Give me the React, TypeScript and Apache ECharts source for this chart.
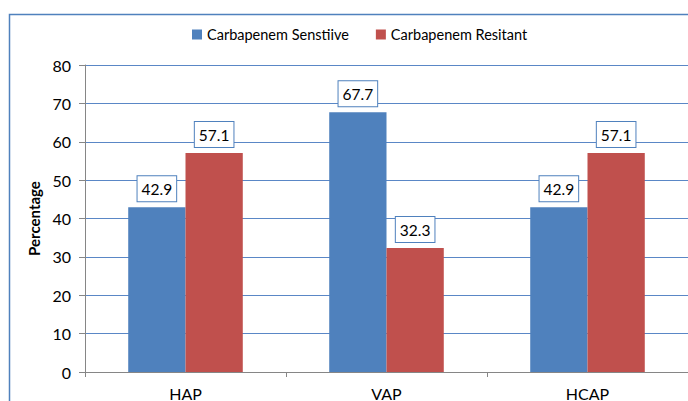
import React, { useEffect, useRef } from "react";
import * as echarts from "echarts";

const categories = ["HAP", "VAP", "HCAP"];
const sensitiveValues = [42.9, 67.7, 42.9];
const resistantValues = [57.1, 32.3, 57.1];
const seriesNames = ["Carbapenem Senstiive", "Carbapenem Resitant"];
const yTicks = [0, 10, 20, 30, 40, 50, 60, 70, 80];

const FONT = "Lato, 'Open Sans', sans-serif";

export default function App() {
  const ref = useRef<HTMLDivElement>(null);
  useEffect(() => {
    document.body.style.margin = "0";
    document.body.style.overflow = "hidden";
    const chart = echarts.init(ref.current!, null, { renderer: "svg" });
    const label = {
      show: true,
      position: "top" as const,
      distance: 6,
      color: "#000",
      fontSize: 15.5,
      fontFamily: FONT,
      backgroundColor: "#fff",
      borderColor: "#4f81bd",
      borderWidth: 1,
      padding: [5, 4, 4, 4],
      formatter: (p: any) => Number(p.value).toFixed(1),
    };
    chart.setOption({
      animation: false,
      textStyle: { fontFamily: FONT },
      graphic: [
        {
          type: "rect",
          shape: { x: 9.5, y: 14.5, width: 720, height: 420 },
          style: { fill: "none", stroke: "#4f81bd", lineWidth: 1.5 },
          z: -10,
        },
      ],
      legend: {
        top: 27,
        left: 192,
        padding: 0,
        itemWidth: 10,
        itemHeight: 10,
        itemGap: 27,
        itemStyle: { borderWidth: 0 },
        icon: "rect",
        textStyle: { fontSize: 14.5, color: "#000", fontFamily: FONT },
        data: seriesNames,
      },
      grid: { left: 85, top: 65, width: 605, height: 311, containLabel: false },
      xAxis: {
        type: "category",
        data: categories,
        axisLine: { lineStyle: { color: "#868686", width: 1 } },
        axisTick: { show: true, length: 5, lineStyle: { color: "#868686" } },
        axisLabel: { fontSize: 16, color: "#000", margin: 13, fontFamily: FONT },
      },
      yAxis: {
        type: "value",
        min: yTicks[0],
        max: yTicks[yTicks.length - 1],
        interval: 10,
        name: "Percentage",
        nameLocation: "middle",
        nameGap: 28,
        nameTextStyle: { fontSize: 15, fontWeight: "bold", color: "#000", fontFamily: FONT },
        axisLine: { show: true, lineStyle: { color: "#868686", width: 1 } },
        axisTick: { show: true, length: 6, lineStyle: { color: "#868686" } },
        axisLabel: { fontSize: 16, color: "#000", margin: 14, fontFamily: FONT },
        splitLine: { lineStyle: { color: "#5a87c6", width: 1 } },
      },
      series: [
        {
          name: seriesNames[0],
          type: "bar",
          data: sensitiveValues,
          itemStyle: { color: "#4f81bd" },
          barGap: "0%",
          barCategoryGap: "43%",
          label,
        },
        {
          name: seriesNames[1],
          type: "bar",
          data: resistantValues,
          itemStyle: { color: "#c0504d" },
          barGap: "0%",
          barCategoryGap: "43%",
          label,
        },
      ],
    });
    return () => chart.dispose();
  }, []);
  return <div ref={ref} style={{ width: 688, height: 401, overflow: "hidden" }} />;
}
